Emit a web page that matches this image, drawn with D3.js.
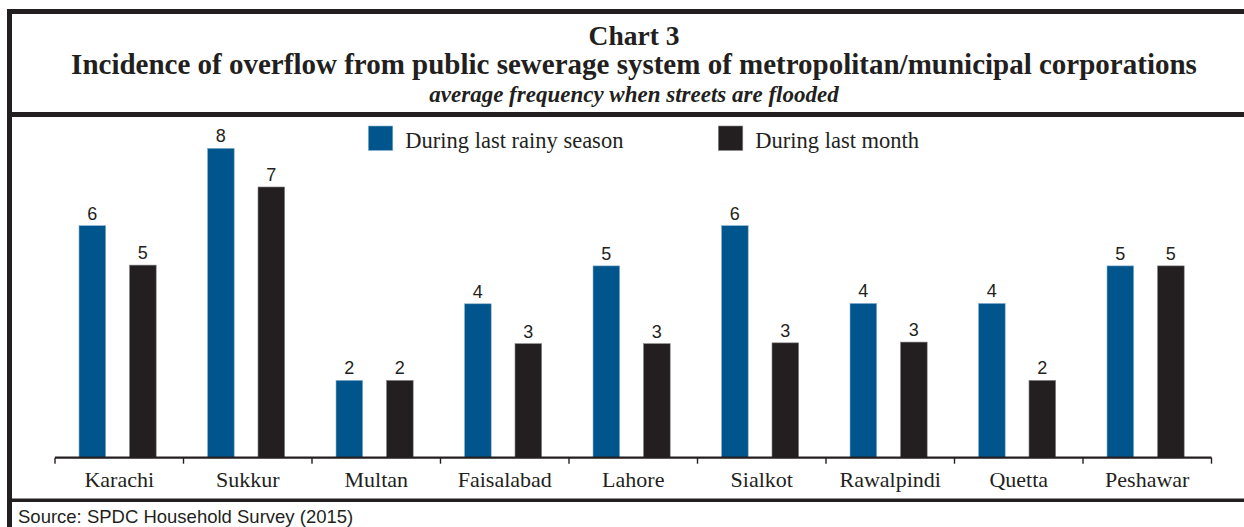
<!DOCTYPE html>
<html>
<head>
<meta charset="utf-8">
<script src="https://cdn.jsdelivr.net/npm/d3@7"></script>
<style>
  html, body { margin: 0; padding: 0; background: #fff; }
  svg { display: block; }
</style>
</head>
<body>
<svg id="chart" width="1244" height="527"></svg>
<script>
// ---- data ----
const categories = ["Karachi", "Sukkur", "Multan", "Faisalabad", "Lahore", "Sialkot", "Rawalpindi", "Quetta", "Peshawar"];
const seriesNames = ["During last rainy season", "During last month"];
const rainySeason = [6.0, 8.0, 2.0, 3.98, 4.96, 6.0, 3.99, 3.99, 4.96];
const lastMonth   = [4.98, 7.0, 2.0, 2.95, 2.95, 2.97, 2.99, 2.0, 4.96];
const seriesColors = ["#00568c", "#231f20"];
const titleLines = ["Chart 3", "Incidence of overflow from public sewerage system of metropolitan/municipal corporations"];
const subtitle = "average frequency when streets are flooded";
const sourceText = "Source: SPDC Household Survey (2015)";

const svg = d3.select("#chart");
const ink = "#231f20";
const serif = "'Liberation Serif', 'Times New Roman', serif";

// ---- frame ----
svg.append("rect").attr("x", 7).attr("y", 9).attr("width", 1237).attr("height", 5).attr("fill", ink);
svg.append("rect").attr("x", 7).attr("y", 9).attr("width", 5).attr("height", 518).attr("fill", ink);
svg.append("rect").attr("x", 7).attr("y", 112).attr("width", 1237).attr("height", 5).attr("fill", ink);
svg.append("rect").attr("x", 7).attr("y", 498.5).attr("width", 1237).attr("height", 3.5).attr("fill", ink);

// ---- titles ----
const cx = 634;
svg.append("text").attr("x", cx).attr("y", 45).attr("text-anchor", "middle")
  .attr("font-family", serif).attr("font-weight", "bold").attr("font-size", 27.5).attr("fill", ink)
  .text(titleLines[0]);
svg.append("text").attr("x", cx).attr("y", 74).attr("text-anchor", "middle")
  .attr("font-family", serif).attr("font-weight", "bold").attr("font-size", 29).attr("fill", ink)
  .text(titleLines[1]);
svg.append("text").attr("x", cx).attr("y", 102).attr("text-anchor", "middle")
  .attr("font-family", serif).attr("font-weight", "bold").attr("font-style", "italic").attr("font-size", 23).attr("fill", ink)
  .text(subtitle);

// ---- scales ----
const x0 = d3.scaleBand().domain(categories).range([55, 1211.5]).paddingInner(0).paddingOuter(0);
const x1 = d3.scaleBand().domain(seriesNames).range([24, 101.2]).paddingInner(0.471).paddingOuter(0);
const y = d3.scaleLinear().domain([0, 8]).range([457.7, 148.3]);

const rows = categories.map((c, i) => ({ cat: c, vals: [rainySeason[i], lastMonth[i]] }));

const g = svg.append("g");
const groups = g.selectAll("g.grp").data(rows).join("g")
  .attr("class", "grp")
  .attr("transform", d => `translate(${x0(d.cat)},0)`);

groups.selectAll("rect").data(d => d.vals.map((v, k) => ({ v, k }))).join("rect")
  .attr("x", d => x1(seriesNames[d.k]))
  .attr("width", x1.bandwidth())
  .attr("y", d => y(d.v))
  .attr("height", d => y(0) - y(d.v))
  .attr("fill", d => seriesColors[d.k])
  .attr("stroke", d => d.k === 0 ? "#8fb4d0" : "#8a8a8a")
  .attr("stroke-width", 0.6);

groups.selectAll("text.val").data(d => d.vals.map((v, k) => ({ v, k }))).join("text")
  .attr("class", "val")
  .attr("x", d => x1(seriesNames[d.k]) + x1.bandwidth() / 2)
  .attr("y", d => y(d.v) - 6)
  .attr("text-anchor", "middle")
  .attr("font-family", "'Liberation Sans', Arial, sans-serif")
  .attr("font-size", 18)
  .attr("fill", ink)
  .text(d => d3.format(".0f")(d.v));

// ---- x axis ----
const axis = d3.axisBottom(x0).tickSize(0).tickPadding(0);
const ax = svg.append("g").attr("transform", `translate(0,${y(0)})`).call(axis);
ax.select(".domain").remove();
ax.append("line").attr("x1", 55).attr("x2", 1211.5).attr("y1", 0).attr("y2", 0)
  .attr("stroke", ink).attr("stroke-width", 2.2);
const bounds = categories.map(c => x0(c)).concat([x0(categories[categories.length - 1]) + x0.bandwidth()]);
ax.selectAll("line.sep").data(bounds).join("line").attr("class", "sep")
  .attr("x1", d => d).attr("x2", d => d).attr("y1", 0).attr("y2", 6)
  .attr("stroke", ink).attr("stroke-width", 1.4);
ax.selectAll(".tick text")
  .attr("y", 29)
  .attr("dy", 0)
  .attr("font-family", serif)
  .attr("font-size", 22)
  .attr("fill", ink);

// ---- legend ----
const legendX = [368.3, 718.3];
seriesNames.forEach((s, k) => {
  svg.append("rect").attr("x", legendX[k]).attr("y", 126).attr("width", 24.5).attr("height", 24.5)
    .attr("fill", seriesColors[k]).attr("stroke", k === 0 ? "#8fb4d0" : "#8a8a8a").attr("stroke-width", 0.6);
  svg.append("text").attr("x", legendX[k] + 37).attr("y", 147.5)
    .attr("font-family", serif).attr("font-size", 22.5).attr("fill", ink).text(s);
});

// ---- source ----
svg.append("text").attr("x", 18).attr("y", 523)
  .attr("font-family", "'Liberation Sans', Arial, sans-serif").attr("font-size", 18.5).attr("fill", ink)
  .text(sourceText);
</script>
</body>
</html>
